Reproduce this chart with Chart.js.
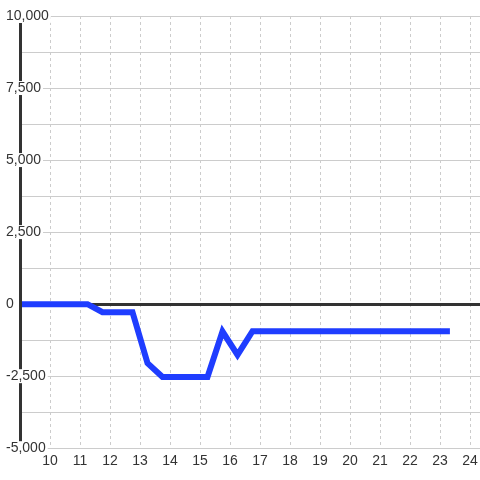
<!DOCTYPE html>
<html>
<head>
<meta charset="utf-8">
<script src="https://cdn.jsdelivr.net/npm/chart.js@4"></script>
<style>
  html, body { margin: 0; padding: 0; background: #fff; }
  #wrap { width: 480px; height: 480px; }
</style>
</head>
<body>
<div id="wrap"><canvas id="chart" width="480" height="480"></canvas></div>
<script>
// ---- data ----
const xValues = [9, 11.25, 11.75, 12.75, 13.25, 13.75, 15.25, 15.75, 16.25, 16.75, 23.33];
const yValues = [0, 0, -280, -280, -2050, -2530, -2530, -950, -1760, -940, -940];
const xTicks = [10, 11, 12, 13, 14, 15, 16, 17, 18, 19, 20, 21, 22, 23, 24];
const yGrid = [-5000, -3750, -2500, -1250, 0, 1250, 2500, 3750, 5000, 6250, 7500, 8750, 10000];
const yLabels = [-5000, -2500, 0, 2500, 5000, 7500, 10000];

const palette = { line: '#1f3dff', axis: '#333333', grid: '#cccccc', text: '#333333' };
const font = { family: 'Liberation Sans, Arial, sans-serif', size: 14 };

new Chart(document.getElementById('chart'), {
  type: 'line',
  data: {
    datasets: [{
      data: xValues.map((x, i) => ({ x, y: yValues[i] })),
      borderColor: palette.line, borderWidth: 6, tension: 0, pointRadius: 0,
      borderJoinStyle: 'miter', borderCapStyle: 'butt', fill: false,
    }],
  },
  options: {
    responsive: false, animation: false,
    layout: { padding: { left: 5, top: 16, right: 0, bottom: 5 } },
    plugins: { legend: { display: false }, tooltip: { enabled: false } },
    scales: {
      x: {
        type: 'linear', min: 9, max: 24.333,
        afterBuildTicks: s => { s.ticks = xTicks.map(v => ({ value: v })); },
        afterFit: s => { s.paddingLeft = 0; s.paddingRight = 0; },
        grid: { color: palette.grid, lineWidth: 1, drawTicks: false },
        border: { display: false, dash: [3, 3] },
        ticks: { color: palette.text, font, padding: 5, autoSkip: false, maxRotation: 0 },
      },
      y: {
        type: 'linear', min: -5000, max: 10000,
        afterBuildTicks: s => { s.ticks = yGrid.map(v => ({ value: v })); },
        afterFit: s => { s.width = 15; s.paddingTop = 0; s.paddingBottom = 0; },
        grid: {
          drawTicks: false,
          color: c => c.tick && c.tick.value === 0 ? palette.axis : palette.grid,
          lineWidth: c => c.tick && c.tick.value === 0 ? 3 : 1,
        },
        border: { color: palette.axis, width: 3, z: 1 },
        ticks: {
          z: 2, color: palette.text, font: { ...font, lineHeight: 1 },
          mirror: true, crossAlign: 'near', padding: -14, autoSkip: false,
          showLabelBackdrop: true, backdropColor: '#ffffff',
          backdropPadding: { left: 1, right: 2, top: 0, bottom: 0 },
          callback: v => yLabels.includes(v) ? v.toLocaleString('en-US') : '',
        },
      },
    },
  },
});
</script>
</body>
</html>
